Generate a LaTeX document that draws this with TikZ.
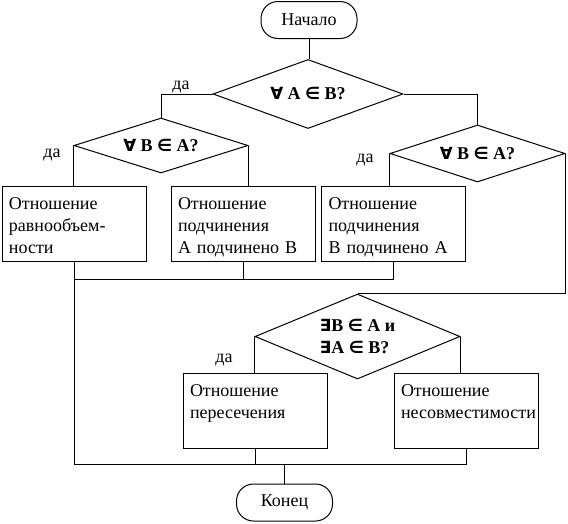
\documentclass[tikz,border=0pt]{standalone}
\usepackage{fontspec}
\setmainfont{Liberation Serif}
\newfontfamily\symfont{DejaVu Sans}[Scale=0.93]
\newcommand\qs[1]{{\symfont #1}}
\usetikzlibrary{shapes.geometric}

\begin{document}
\begin{tikzpicture}[x=1pt, y=-1pt, line width=1pt,
  every node/.style={font=\fontsize{18}{22}\selectfont},
  term/.style={draw, rounded corners=17pt, minimum width=96pt, minimum height=37pt},
  cond/.style={draw, diamond, aspect=2.5, inner sep=0pt, font=\fontsize{18}{22}\selectfont\bfseries},
  proc/.style={draw, minimum width=144pt, text width=130pt, align=left, inner xsep=7pt, inner ysep=5pt, text height=18pt, text depth=47pt}]
  \useasboundingbox (0,0) rectangle (568,523);
  % start and the three questions
  \node[term] (start) at (309,20) {Начало};
  \node[cond, minimum width=190pt, minimum height=69pt] (q1) at (308,94) {\qs{∀} A \qs{∈} B?};
  \node[cond, minimum width=174pt, minimum height=55pt] (q2) at (161,145.5) {\qs{∀} B \qs{∈} A?};
  \node[cond, minimum width=175pt, minimum height=57pt] (q3) at (477.5,153.5) {\qs{∀} B \qs{∈} A?};
  \node[cond, minimum width=205pt, minimum height=85pt, align=left] (q4) at (357.5,336.5) {\qs{∃}B \qs{∈} A и\\\qs{∃}A \qs{∈} B?};
  % relations
  \node[proc] (r1) at (74,223.5) {Отношение\\равнообъем-\\ности};
  \node[proc] (r2) at (243,223.5) {Отношение\\подчинения\\А подчинено В};
  \node[proc] (r3) at (393.5,223.5) {Отношение\\подчинения\\В подчинено А};
  \node[proc] (r4) at (255,411) {Отношение\\пересечения};
  \node[proc] (r5) at (466,410.5) {Отношение\\несовместимости};
  \node[term] (stop) at (284.5,502.5) {Конец};
  \node (y1) at (181,87) {да};
  \node (y2) at (52,155) {да};
  \node (y3) at (365,160) {да};
  \node (y4) at (224,360) {да};
  \coordinate (j1) at (r1.south |- 0,279);
  \coordinate (j2) at (r1.south |- 0,464);
  \draw (start.south) -- (start.south |- q1.north);
  \draw (q1.west) -| (q2.north);
  \draw (q1.east) -| (q3.north);
  \draw (q2.west) -- (q2.west |- r1.north);
  \draw (q2.east) -- (q2.east |- r2.north);
  \draw (q3.west) -- (q3.west |- r3.north);
  \draw (q3.east) |- (q4.north);
  \draw (q4.west) -- (q4.west |- r4.north);
  \draw (q4.east) -- (q4.east |- r5.north);
  \draw (r2.south) |- (j1);
  \draw (r3.south) |- (j1);
  \draw (r1.south) -- (j2) -| (r5.south);
  \draw (r4.south) -- (r4.south |- j2);
  \draw (stop.north) -- (stop.north |- j2);
\end{tikzpicture}
\end{document}
